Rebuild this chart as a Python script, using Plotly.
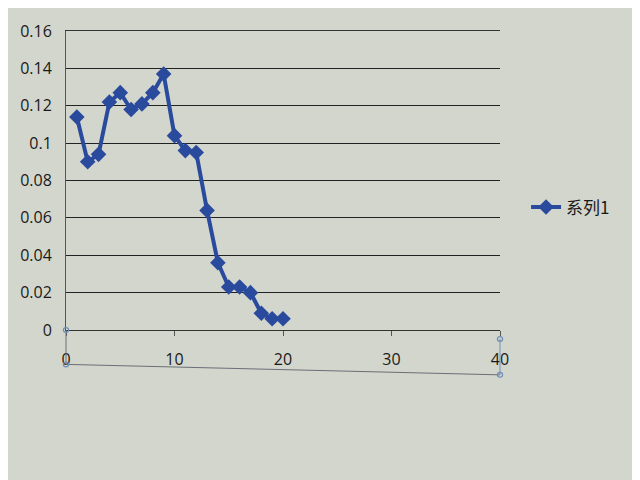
import plotly.graph_objects as go

x_vals = list(range(1, 21))
y_vals = [0.114, 0.090, 0.094, 0.122, 0.127, 0.118, 0.121, 0.127, 0.137, 0.104,
          0.096, 0.095, 0.064, 0.036, 0.023, 0.023, 0.020, 0.009, 0.006, 0.006]
series_name = "系列1"
x_ticks = [0, 10, 20, 30, 40]
y_ticks = [0, 0.02, 0.04, 0.06, 0.08, 0.1, 0.12, 0.14, 0.16]
y_ticktext = ["0", "0.02", "0.04", "0.06", "0.08", "0.1", "0.12", "0.14", "0.16"]

fig = go.Figure()
fig.add_trace(go.Scatter(
    x=x_vals, y=y_vals, name=series_name, mode="lines+markers",
    line=dict(color="#2a4a9e", width=4),
    marker=dict(symbol="diamond", size=12, color="#2a4a9e"),
    showlegend=True,
))

fig.update_layout(
    width=640, height=480,
    margin=dict(l=56, r=148, t=16, b=158),
    paper_bgcolor="#d3d6cc",
    plot_bgcolor="#d3d6cc",
    font=dict(family="Open Sans", size=16, color="#1a1a1a"),
    legend=dict(x=1.06, y=0.41, xanchor="left", yanchor="middle",
                bgcolor="rgba(0,0,0,0)", font=dict(size=17, family="Noto Sans CJK SC")),
    xaxis=dict(range=[0, 40], tickvals=x_ticks, showgrid=False, zeroline=False,
               showline=True, mirror=True, linecolor="#333", linewidth=1,
               ticks="outside", ticklen=5, tickcolor="#555",
               ticklabelstandoff=10, tickfont=dict(size=16)),
    yaxis=dict(range=[0, 0.16], tickvals=y_ticks, ticktext=y_ticktext,
               showgrid=True, gridcolor="#222", gridwidth=1, zeroline=False,
               showline=True, linecolor="#555", linewidth=1,
               ticks="", ticklabelstandoff=10, tickfont=dict(size=16),
               ticklabeloverflow="allow"),
)

handle = dict(color="#6f8fb8", width=1.2)
fig.add_shape(type="line", xref="paper", yref="paper", x0=0, x1=1, y0=-0.115, y1=-0.15,
              line=dict(color="#6a6f78", width=1))
fig.add_shape(type="line", xref="paper", yref="paper", x0=0, x1=0, y0=0, y1=-0.115,
              line=dict(color="#6a6f78", width=1))
fig.add_shape(type="line", xref="paper", yref="paper", x0=1, x1=1, y0=-0.03, y1=-0.15,
              line=dict(color="#6f8fb8", width=1))
for hx, hy in [(0, 0), (0, -0.115), (1, -0.03), (1, -0.15)]:
    fig.add_shape(type="circle", xref="paper", yref="paper",
                  x0=hx - 0.006, x1=hx + 0.006, y0=hy - 0.008, y1=hy + 0.008,
                  line=handle, fillcolor="rgba(0,0,0,0)")

fig.write_html("out.html")
